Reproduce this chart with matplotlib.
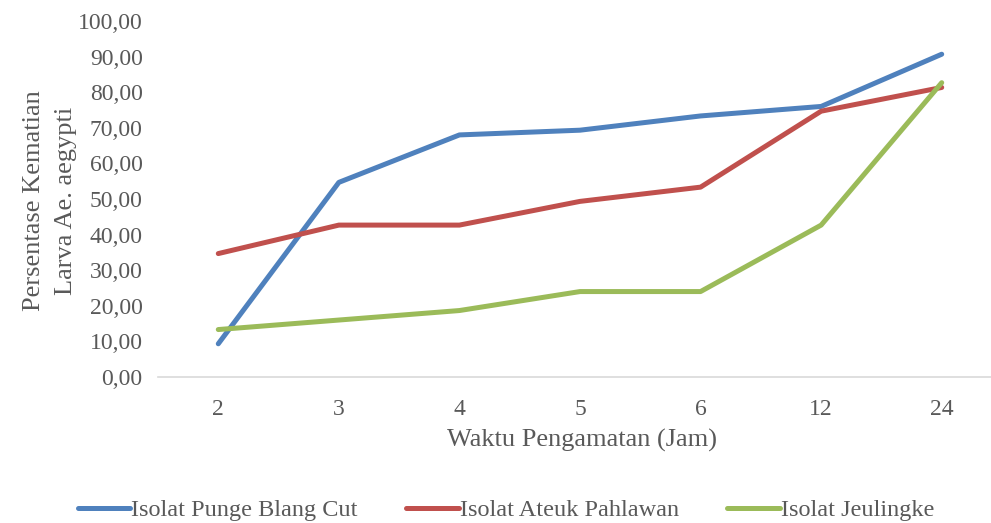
import numpy as np
import matplotlib.pyplot as plt

plt.rcParams['font.family'] = ['Liberation Serif', 'DejaVu Serif']

# observation times (hours) and larval mortality (%)
waktu = ['2', '3', '4', '5', '6', '12', '24']
punge_blang_cut = [9.33, 54.67, 68.00, 69.33, 73.33, 76.00, 90.67]
ateuk_pahlawan = [34.67, 42.67, 42.67, 49.33, 53.33, 74.67, 81.33]
jeulingke = [13.33, 16.00, 18.67, 24.00, 24.00, 42.67, 82.67]

series = [
    ('Isolat Punge Blang Cut', punge_blang_cut, '#4F81BD'),
    ('Isolat Ateuk Pahlawan', ateuk_pahlawan, '#C0504D'),
    ('Isolat Jeulingke', jeulingke, '#9BBB59'),
]

text_color = '#595959'

fig = plt.figure(figsize=(9.91, 5.23), dpi=100)
ax = fig.add_axes([158 / 991, (523 - 377) / 523, (1002 - 158) / 991, (377 - 21) / 523])

xpos = np.arange(len(waktu))
for label, vals, color in series:
    ax.plot(xpos, vals, color=color, lw=3.6, label=label,
            solid_capstyle='round', solid_joinstyle='round')

ax.set_xlim(-0.5, len(waktu) - 0.5)
ax.set_ylim(0, 100)
ax.set_xticks(xpos)
ax.set_xticklabels(waktu)
ax.set_yticks(np.arange(0, 101, 10))
ax.set_yticklabels([f'{v:.2f}'.replace('.', ',') for v in np.arange(0, 101, 10)])
ax.tick_params(length=0, labelsize=17, colors=text_color)
ax.tick_params(axis='y', pad=11)
ax.tick_params(axis='x', pad=16)

for side in ['top', 'right', 'left']:
    ax.spines[side].set_visible(False)
ax.spines['bottom'].set_color('#D9D9D9')
ax.spines['bottom'].set_linewidth(1.2)

fig.text(582 / 991, 1 - 440 / 523, 'Waktu Pengamatan (Jam)', ha='center', va='center',
         fontsize=19, color=text_color)
fig.text(50 / 991, 1 - 201 / 523, 'Persentase Kematian\nLarva Ae. aegypti', ha='center',
         va='center', rotation=90, fontsize=19, color=text_color, linespacing=1.6)

fig.legend(loc='center', bbox_to_anchor=(506 / 991, 1 - 510 / 523), ncol=3,
           frameon=False, fontsize=17.5, handlelength=2.15, handletextpad=0.05,
           columnspacing=2.0, labelcolor=text_color)

fig.savefig('out.png', dpi=100)
